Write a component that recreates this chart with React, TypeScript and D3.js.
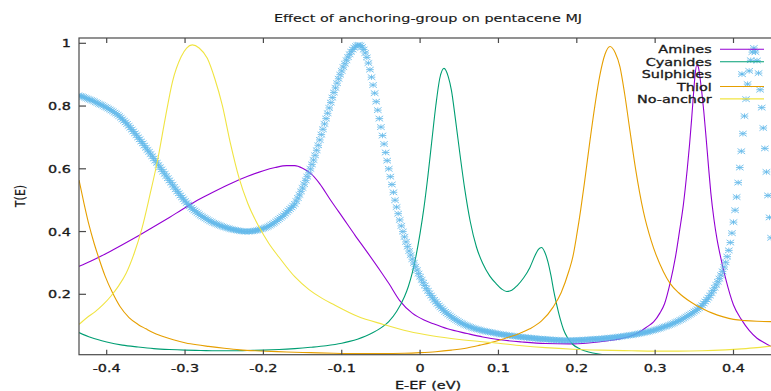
import React from 'react';
import * as d3 from 'd3';

// ---------- data ----------
const seriesNames = ['Amines', 'Cyanides', 'Sulphides', 'Thiol', 'No-anchor'];
const seriesColors = ['#9400d3', '#009e73', '#56b4e9', '#e69f00', '#f0e442'];

const xTicks = [-0.4, -0.3, -0.2, -0.1, 0, 0.1, 0.2, 0.3, 0.4];
const xTickLabels = ['-0.4', '-0.3', '-0.2', '-0.1', '0', '0.1', '0.2', '0.3', '0.4'];
const yTicks = [0.2, 0.4, 0.6, 0.8, 1];
const yTickLabels = ['0.2', '0.4', '0.6', '0.8', '1'];

const aminesE = [-0.4353, -0.42, -0.40, -0.38, -0.36, -0.34, -0.32, -0.30, -0.28, -0.26, -0.24, -0.22, -0.20, -0.185, -0.17, -0.16, -0.15, -0.14, -0.128, -0.115, -0.098, -0.083, -0.068, -0.05, -0.04, -0.026, -0.01, 0.005, 0.017, 0.035, 0.06, 0.08, 0.102, 0.13, 0.16, 0.19, 0.215, 0.24, 0.255, 0.268, 0.28, 0.29, 0.298, 0.306, 0.312, 0.319, 0.326, 0.331, 0.336, 0.341, 0.344, 0.3466, 0.349, 0.351, 0.353, 0.355, 0.357, 0.3595, 0.362, 0.365, 0.368, 0.371, 0.375, 0.379, 0.383, 0.39, 0.40, 0.41, 0.42, 0.43, 0.44, 0.448];
const aminesT = [0.289, 0.306, 0.331, 0.358, 0.386, 0.415, 0.445, 0.476, 0.505, 0.531, 0.555, 0.576, 0.594, 0.604, 0.610, 0.610, 0.602, 0.586, 0.552, 0.503, 0.442, 0.388, 0.336, 0.272, 0.235, 0.180, 0.140, 0.118, 0.106, 0.090, 0.075, 0.064, 0.055, 0.048, 0.043, 0.042, 0.045, 0.052, 0.058, 0.066, 0.080, 0.097, 0.112, 0.140, 0.170, 0.235, 0.320, 0.400, 0.485, 0.600, 0.680, 0.760, 0.840, 0.900, 0.930, 0.925, 0.895, 0.845, 0.785, 0.700, 0.610, 0.525, 0.440, 0.375, 0.325, 0.250, 0.166, 0.120, 0.085, 0.060, 0.045, 0.034];

const cyanidesE = [-0.4353, -0.42, -0.40, -0.38, -0.36, -0.34, -0.32, -0.30, -0.28, -0.26, -0.24, -0.22, -0.20, -0.18, -0.16, -0.14, -0.12, -0.10, -0.09, -0.08, -0.07, -0.06, -0.05, -0.04, -0.03, -0.02, -0.015, -0.01, -0.005, 0.0, 0.005, 0.01, 0.015, 0.02, 0.025, 0.0305, 0.036, 0.040, 0.045, 0.051, 0.057, 0.064, 0.072, 0.080, 0.089, 0.097, 0.104, 0.1105, 0.117, 0.124, 0.132, 0.140, 0.147, 0.151, 0.155, 0.159, 0.163, 0.167, 0.171, 0.175, 0.179, 0.183, 0.188, 0.195, 0.204, 0.215, 0.23, 0.24, 0.26, 0.30, 0.448];
const cyanidesT = [0.078, 0.062, 0.048, 0.038, 0.032, 0.027, 0.024, 0.022, 0.021, 0.020, 0.020, 0.021, 0.022, 0.024, 0.027, 0.031, 0.036, 0.044, 0.050, 0.057, 0.066, 0.078, 0.093, 0.113, 0.145, 0.192, 0.225, 0.268, 0.325, 0.395, 0.478, 0.578, 0.690, 0.800, 0.887, 0.920, 0.893, 0.850, 0.760, 0.644, 0.535, 0.432, 0.350, 0.298, 0.258, 0.234, 0.217, 0.209, 0.213, 0.228, 0.252, 0.285, 0.325, 0.343, 0.349, 0.335, 0.305, 0.260, 0.205, 0.160, 0.120, 0.088, 0.062, 0.040, 0.026, 0.016, 0.009, 0.006, 0.003, 0.001, 0.0];

// Sulphides: points on a uniform energy grid
const sulphidesStartE = -0.436;
const sulphidesStepE = 0.002;
const sulphidesT = [
  0.834, 0.832, 0.831, 0.829, 0.827, 0.825, 0.823, 0.821, 0.819, 0.817, 0.815, 0.812, 0.810, 0.807, 0.805, 0.803, 0.800, 0.797, 0.795, 0.792,
  0.789, 0.786, 0.783, 0.779, 0.776, 0.772, 0.768, 0.763, 0.758, 0.753, 0.748, 0.743, 0.737, 0.731, 0.725, 0.719, 0.713, 0.707, 0.700, 0.694,
  0.687, 0.681, 0.674, 0.667, 0.660, 0.654, 0.647, 0.640, 0.633, 0.626, 0.619, 0.612, 0.605, 0.598, 0.591, 0.584, 0.577, 0.570, 0.563, 0.556,
  0.549, 0.542, 0.535, 0.528, 0.522, 0.515, 0.509, 0.503, 0.497, 0.491, 0.486, 0.481, 0.476, 0.471, 0.467, 0.463, 0.459, 0.455, 0.451, 0.448,
  0.445, 0.442, 0.439, 0.436, 0.433, 0.431, 0.428, 0.426, 0.424, 0.422, 0.420, 0.418, 0.416, 0.414, 0.413, 0.411, 0.410, 0.408, 0.407, 0.406,
  0.405, 0.404, 0.403, 0.402, 0.401, 0.401, 0.400, 0.400, 0.400, 0.400, 0.401, 0.401, 0.402, 0.403, 0.404, 0.405, 0.407, 0.408, 0.410, 0.412,
  0.414, 0.416, 0.419, 0.422, 0.425, 0.428, 0.432, 0.436, 0.440, 0.444, 0.448, 0.452, 0.457, 0.462, 0.467, 0.472, 0.477, 0.482,
  0.488, 0.497, 0.507, 0.517, 0.528, 0.539, 0.551, 0.563, 0.575, 0.587, 0.600, 0.614, 0.628, 0.643, 0.659, 0.675, 0.692, 0.709, 0.726, 0.743,
  0.760, 0.777, 0.794, 0.811, 0.827, 0.843, 0.858, 0.873, 0.887, 0.900, 0.912, 0.924, 0.935, 0.946, 0.956, 0.965, 0.973, 0.980, 0.986, 0.991,
  0.994, 0.995, 0.993, 0.988, 0.980, 0.969, 0.955, 0.937, 0.916, 0.892, 0.867, 0.841, 0.814, 0.787, 0.760, 0.733, 0.706, 0.679, 0.652, 0.626,
  0.600, 0.575, 0.550, 0.525, 0.500, 0.478, 0.457, 0.437, 0.418, 0.400, 0.383, 0.367, 0.352, 0.338, 0.325, 0.312, 0.300, 0.288, 0.277, 0.266,
  0.256, 0.246, 0.237, 0.228, 0.219, 0.211, 0.203, 0.196, 0.189, 0.182, 0.176, 0.170, 0.164, 0.159, 0.154, 0.149, 0.144, 0.140, 0.136, 0.132,
  0.128, 0.124, 0.121, 0.118, 0.115, 0.112, 0.109, 0.107, 0.104, 0.102, 0.100, 0.098, 0.096, 0.094, 0.092, 0.091, 0.089, 0.088, 0.087, 0.085,
  0.084, 0.083, 0.082, 0.081, 0.080, 0.079, 0.078, 0.077, 0.076, 0.075, 0.074, 0.073, 0.072, 0.072, 0.071, 0.070, 0.069, 0.069, 0.068, 0.067,
  0.067, 0.066, 0.065, 0.065, 0.064, 0.064, 0.063, 0.063, 0.062, 0.062, 0.061, 0.061, 0.060, 0.060, 0.059, 0.059, 0.058, 0.058, 0.058, 0.057,
  0.057, 0.056, 0.056, 0.056, 0.055, 0.055, 0.055, 0.054, 0.054, 0.054,
  0.053, 0.053, 0.053, 0.053, 0.053, 0.053, 0.053, 0.053, 0.053, 0.053,
  0.054, 0.054, 0.054, 0.054, 0.055, 0.055, 0.055, 0.056, 0.056, 0.056, 0.057, 0.057, 0.057, 0.058, 0.058, 0.058, 0.059, 0.059, 0.060, 0.060,
  0.061, 0.061, 0.062, 0.062, 0.063, 0.063, 0.064, 0.065, 0.065, 0.066, 0.067, 0.067, 0.068, 0.069, 0.070, 0.070, 0.071, 0.072, 0.073, 0.074,
  0.075, 0.076, 0.077, 0.078, 0.079, 0.080, 0.081, 0.083, 0.084, 0.085, 0.087, 0.088, 0.090, 0.091, 0.093, 0.095, 0.097, 0.098, 0.100, 0.102,
  0.104, 0.106, 0.108, 0.111, 0.113, 0.115, 0.118, 0.120, 0.123, 0.126, 0.129, 0.132, 0.135, 0.138, 0.141, 0.145, 0.148, 0.152, 0.156, 0.160,
  0.165, 0.171, 0.177, 0.183, 0.189, 0.196, 0.204, 0.212, 0.221, 0.230, 0.240, 0.250, 0.261, 0.273, 0.287, 0.302, 0.320, 0.340, 0.365, 0.395,
  0.430, 0.468, 0.510, 0.556, 0.604, 0.656, 0.712, 0.768, 0.822, 0.870, 0.912, 0.946, 0.972, 0.985, 0.972, 0.945, 0.905, 0.852, 0.795, 0.730,
  0.665, 0.590, 0.515, 0.445, 0.380
];

const thiolE = [-0.4353, -0.429, -0.4226, -0.416, -0.41, -0.402, -0.393, -0.383, -0.3715, -0.36, -0.35, -0.3418, -0.33, -0.315, -0.299, -0.285, -0.27, -0.25, -0.23, -0.21, -0.19, -0.17, -0.14, -0.11, -0.08, -0.05, -0.02, 0.0, 0.02, 0.04, 0.06, 0.0765, 0.09, 0.105, 0.1275, 0.14, 0.155, 0.17, 0.18, 0.19, 0.195, 0.2, 0.205, 0.21, 0.2168, 0.223, 0.2296, 0.236, 0.2424, 0.249, 0.2551, 0.261, 0.2679, 0.275, 0.2849, 0.295, 0.3104, 0.319, 0.33, 0.3445, 0.36, 0.373, 0.387, 0.40, 0.415, 0.43, 0.448];
const thiolT = [0.564, 0.490, 0.421, 0.362, 0.315, 0.258, 0.207, 0.161, 0.126, 0.104, 0.090, 0.079, 0.067, 0.055, 0.045, 0.039, 0.034, 0.028, 0.023, 0.020, 0.018, 0.016, 0.014, 0.012, 0.011, 0.011, 0.012, 0.014, 0.017, 0.022, 0.029, 0.038, 0.046, 0.057, 0.076, 0.090, 0.115, 0.160, 0.205, 0.275, 0.320, 0.390, 0.470, 0.560, 0.690, 0.800, 0.900, 0.965, 0.990, 0.970, 0.925, 0.840, 0.720, 0.600, 0.465, 0.370, 0.273, 0.235, 0.205, 0.177, 0.155, 0.140, 0.128, 0.120, 0.116, 0.114, 0.113];

const noAnchorE = [-0.4353, -0.425, -0.415, -0.405, -0.395, -0.385, -0.375, -0.365, -0.355, -0.345, -0.335, -0.325, -0.316, -0.305, -0.298, -0.2907, -0.282, -0.2716, -0.262, -0.2525, -0.242, -0.231, -0.22, -0.2056, -0.193, -0.18, -0.16, -0.1418, -0.125, -0.1108, -0.08, -0.047, -0.015, 0.0168, 0.05, 0.10, 0.13, 0.16, 0.195, 0.23, 0.27, 0.30, 0.33, 0.36, 0.39, 0.41, 0.43, 0.448];
const noAnchorT = [0.104, 0.126, 0.144, 0.166, 0.193, 0.226, 0.268, 0.330, 0.410, 0.515, 0.628, 0.765, 0.878, 0.957, 0.985, 0.995, 0.985, 0.952, 0.887, 0.803, 0.680, 0.570, 0.490, 0.415, 0.362, 0.318, 0.256, 0.215, 0.187, 0.168, 0.130, 0.104, 0.082, 0.067, 0.056, 0.044, 0.036, 0.030, 0.025, 0.022, 0.020, 0.019, 0.019, 0.020, 0.023, 0.026, 0.030, 0.035];

// ---------- layout ----------
const W = 771;
const H = 391;
const plotL = 79;
const plotR = 777;
const plotT = 38;
const plotB = 354.7;
const SX = 1.2;
const SY = 0.92;

const zip = (e: number[], t: number[]) => e.map((v, i) => [v, t[i]] as [number, number]);

function Txt(props: { x: number; y: number; anchor?: string; rotate?: boolean; heavy?: boolean; children: React.ReactNode }) {
  const { x, y, anchor = 'start', rotate = false, heavy = true, children } = props;
  return (
    <text
      transform={`translate(${x},${y}) scale(${SX},${SY})${rotate ? ' rotate(-90)' : ''}`}
      textAnchor={anchor}
      fontFamily="'DejaVu Sans', sans-serif"
      fontSize={12}
      fill="#1a1a1a"
      stroke="#1a1a1a"
      strokeWidth={heavy ? 0.35 : 0.15}
    >
      {children}
    </text>
  );
}

const starPath = 'M-3.8,0H3.8M0,-2.7V2.7M-3.8,-2.7L3.8,2.7M-3.8,2.7L3.8,-2.7';

export default function App() {
  const x = d3.scaleLinear().domain([-0.4, 0.4]).range([106.7, 733.5]);
  const y = d3.scaleLinear().domain([0.2, 1]).range([294.3, 43.3]);

  const line = d3
    .line<[number, number]>()
    .x((d) => x(d[0]))
    .y((d) => y(d[1]))
    .curve(d3.curveMonotoneX);

  const amines = zip(aminesE, aminesT);
  const cyanides = zip(cyanidesE, cyanidesT);
  const thiol = zip(thiolE, thiolT);
  const noAnchor = zip(noAnchorE, noAnchorT);
  const sulphides = sulphidesT.map((t, i) => [sulphidesStartE + i * sulphidesStepE, t] as [number, number]);

  const legendY = (i: number) => 49.3 + 12.4 * i;
  const axisColor = '#4a4a4a';

  return (
    <svg
      width={W}
      height={H}
      viewBox={`0 0 ${W} ${H}`}
      style={{ position: 'absolute', left: 0, top: 0, background: '#fff' }}
    >
      <defs>
        <clipPath id="plotClip">
          <rect x={plotL} y={plotT} width={plotR - plotL} height={plotB - plotT} />
        </clipPath>
      </defs>
      <rect x={0} y={0} width={W} height={H} fill="#fff" />

      {/* title */}
      <Txt x={428} y={22} anchor="middle" heavy={false}>Effect of anchoring-group on pentacene MJ</Txt>

      {/* curves */}
      <g clipPath="url(#plotClip)" fill="none" strokeWidth={1.1}>
        <path d={line(amines) || ''} stroke={seriesColors[0]} />
        <path d={line(cyanides) || ''} stroke={seriesColors[1]} />
        <g stroke={seriesColors[2]} strokeWidth={0.85} opacity={0.9}>
          {sulphides.map((d, i) => (
            <path key={i} d={starPath} transform={`translate(${x(d[0])},${y(d[1])})`} />
          ))}
        </g>
        <path d={line(thiol) || ''} stroke={seriesColors[3]} />
        <path d={line(noAnchor) || ''} stroke={seriesColors[4]} />
      </g>

      {/* frame */}
      <rect x={plotL} y={plotT} width={plotR - plotL} height={plotB - plotT} fill="none" stroke={axisColor} strokeWidth={1.2} />

      {/* y ticks */}
      {yTicks.map((t, i) => (
        <g key={'y' + i}>
          <line x1={plotL} x2={plotL + 7} y1={y(t)} y2={y(t)} stroke={axisColor} strokeWidth={1.2} />
          <Txt x={71} y={y(t) + 4} anchor="end">{yTickLabels[i]}</Txt>
        </g>
      ))}

      {/* x ticks */}
      {xTicks.map((t, i) => (
        <g key={'x' + i}>
          <line x1={x(t)} x2={x(t)} y1={plotB} y2={plotB - 5} stroke={axisColor} strokeWidth={1.2} />
          <line x1={x(t)} x2={x(t)} y1={plotT} y2={plotT + 5} stroke={axisColor} strokeWidth={1.2} />
          <Txt x={x(t)} y={371.5} anchor="middle">{xTickLabels[i]}</Txt>
        </g>
      ))}

      {/* axis labels */}
      <Txt x={428} y={389} anchor="middle">E-EF (eV)</Txt>
      <Txt x={24.5} y={196} anchor="middle" rotate heavy={false}>T(E)</Txt>

      {/* legend */}
      {seriesNames.map((name, i) => (
        <g key={'l' + i}>
          <Txt x={711.7} y={legendY(i) + 4} anchor="end">{name}</Txt>
          {i === 2 ? (
            <path d={starPath} transform={`translate(742,${legendY(i)})`} stroke={seriesColors[i]} strokeWidth={0.85} fill="none" />
          ) : (
            <line x1={720} x2={764} y1={legendY(i)} y2={legendY(i)} stroke={seriesColors[i]} strokeWidth={1.1} />
          )}
        </g>
      ))}
    </svg>
  );
}
